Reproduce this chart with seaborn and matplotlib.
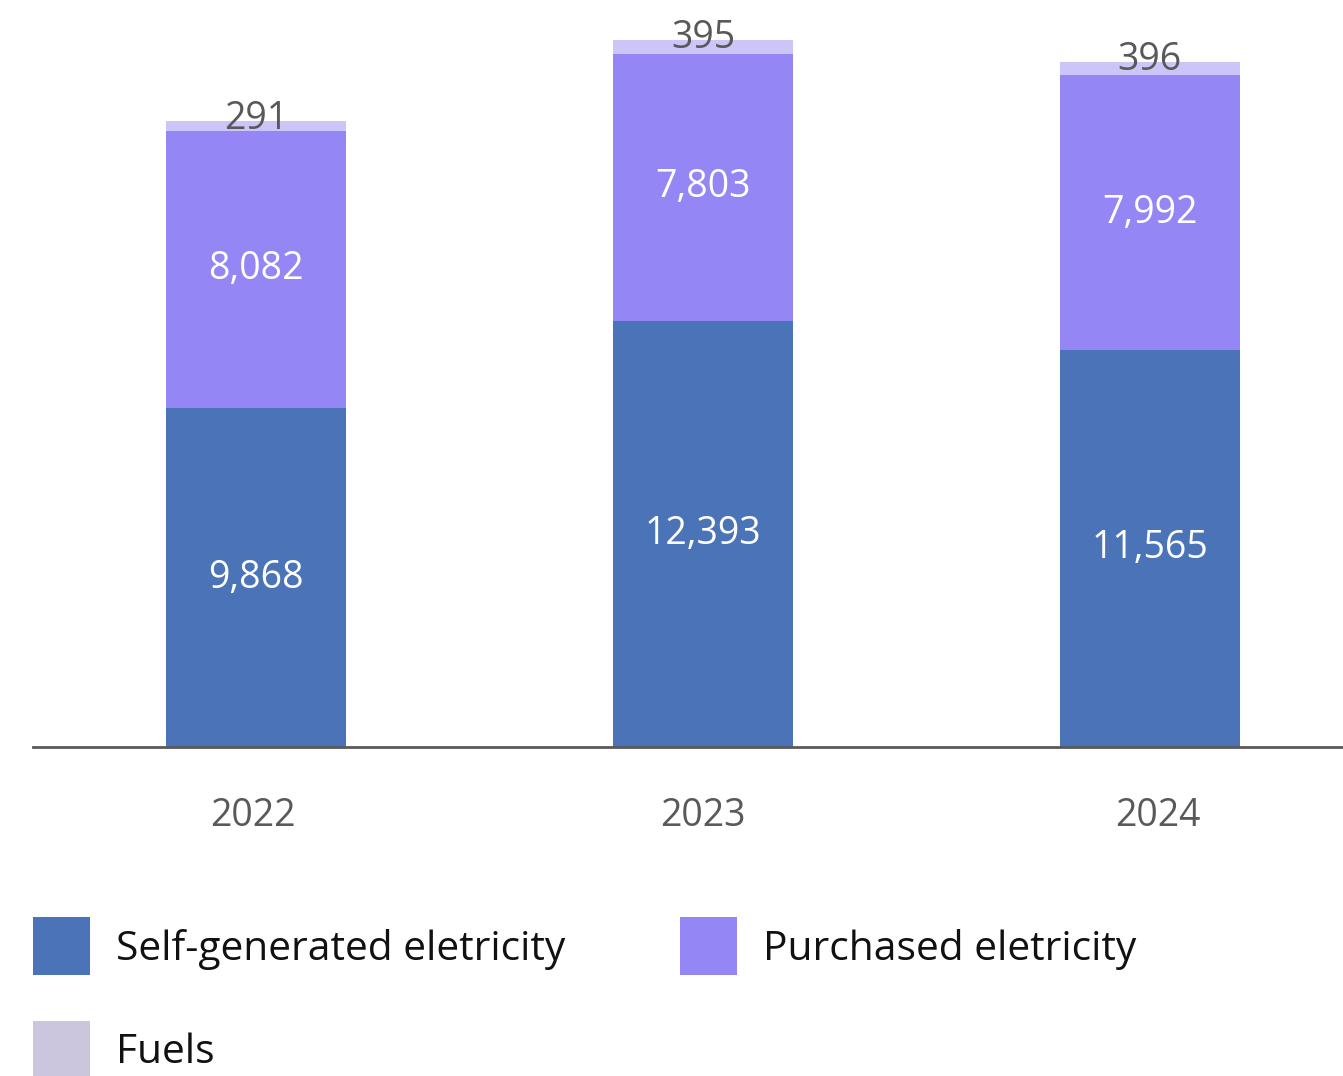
import matplotlib
matplotlib.use("Agg")
import matplotlib.pyplot as plt
from matplotlib.patches import Rectangle
import numpy as np
import pandas as pd
import seaborn as sns

years = ["2022", "2023", "2024"]
self_generated = [9868, 12393, 11565]
purchased = [8082, 7803, 7992]
fuels = [291, 395, 396]

series_names = ["Self-generated eletricity", "Purchased eletricity", "Fuels"]
bar_colors = ["#4A73B8", "#9486F4", "#CCC6F8"]
legend_colors = ["#4A73B8", "#9486F4", "#CBC5DD"]

sns.set_theme(style="white")
plt.rcParams["font.family"] = ["Open Sans", "DejaVu Sans"]

W, H, DPI = 1343, 1076, 100
fig = plt.figure(figsize=(W / DPI, H / DPI), dpi=DPI)
ax = fig.add_axes([0, (H - 747) / H, 1, 747 / H])

sg = np.array(self_generated)
pu = np.array(purchased)
fu = np.array(fuels)
df = pd.DataFrame({
    "year": years,
    "level1": sg,
    "level2": sg + pu,
    "level3": sg + pu + fu,
})

# stacked bars: draw cumulative heights from the tallest down
for col, color in zip(["level3", "level2", "level1"], bar_colors[::-1]):
    sns.barplot(data=df, x="year", y=col, color=color, width=0.403,
                saturation=1, ax=ax, linewidth=0)

ax.set_xlim(-0.573, 2.432)
ax.set_ylim(0, 21755)
ax.set_ylabel("")
ax.set_xlabel("")
ax.set_yticks([])
ax.set_xticks([])
for s in ["top", "right", "left"]:
    ax.spines[s].set_visible(False)
ax.spines["bottom"].set_color("#595959")
ax.spines["bottom"].set_linewidth(2)
ax.spines["bottom"].set_bounds(-0.499, 2.432)

grey = "#595959"
year_label_dx = [-2, 0, 6]  # horizontal nudge of the category labels, points
xs = np.arange(len(years))
for i, x in enumerate(xs):
    ax.text(x, sg[i] / 2, f"{sg[i]:,}", ha="center", va="center",
            color="white", fontsize=27)
    ax.text(x, sg[i] + pu[i] / 2, f"{pu[i]:,}", ha="center", va="center",
            color="white", fontsize=27)
    ax.annotate(f"{fu[i]:,}", (x, sg[i] + pu[i] + fu[i]), xytext=(0, 1.5),
                textcoords="offset points", ha="center", va="center",
                color=grey, fontsize=27)
    ax.annotate(years[i], (x, 0), xytext=(year_label_dx[i], -50),
                textcoords="offset points", ha="center", va="center",
                color=grey, fontsize=27, annotation_clip=False)

# legend
legend_items = [(33, 917, 116), (680, 917, 763), (33, 1021, 116)]
for (lx, ly, tx), name, color in zip(legend_items, series_names, legend_colors):
    fig.patches.append(Rectangle((lx / W, 1 - (ly + 58) / H), 57 / W, 58 / H,
                                 transform=fig.transFigure, color=color,
                                 linewidth=0))
    fig.text(tx / W, 1 - (ly + 32) / H, name, ha="left", va="center",
             fontsize=29.3, color="#111111")

fig.savefig("out.png", dpi=DPI)
